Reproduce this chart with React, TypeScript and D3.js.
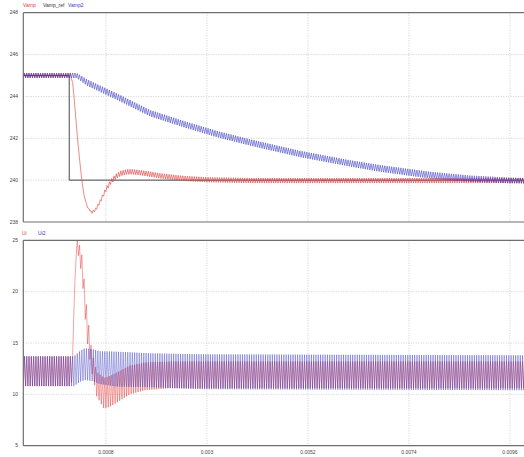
import React from 'react';
import * as d3 from 'd3';

// ---- axis ticks ----
const xTickValues = [0.0008, 0.003, 0.0052, 0.0074, 0.0096];
const xTickLabels = ['0.0008', '0.003', '0.0052', '0.0074', '0.0096'];
const topTickValues = [238, 240, 242, 244, 246, 248];
const bottomTickValues = [5, 10, 15, 20, 25];

// ---- legends ----
const topLegend = ['Vamp', 'Vamp_ref', 'Vamp2'];
const bottomLegend = ['Ui', 'Ui2'];

// ---- signal envelopes: [time (s), ripple low, ripple high] ----
const vamp: [number, number, number][] = [
  [-0.001, 244.9, 245.1],
  [0.00004, 244.9, 245.1],
  [0.00008, 244.6, 244.6],
  [0.00012, 243.6, 243.6],
  [0.00018, 242.0, 242.0],
  [0.00023, 240.9, 240.9],
  [0.00028, 239.9, 239.9],
  [0.00033, 239.2, 239.2],
  [0.0004, 238.68, 238.72],
  [0.00049, 238.4, 238.5],
  [0.00058, 238.53, 238.67],
  [0.00068, 238.92, 239.08],
  [0.0008, 239.45, 239.65],
  [0.0009, 239.79, 240.01],
  [0.001, 240.03, 240.27],
  [0.00112, 240.2, 240.44],
  [0.00125, 240.27, 240.51],
  [0.00135, 240.28, 240.52],
  [0.0015, 240.25, 240.49],
  [0.00175, 240.17, 240.41],
  [0.002, 240.08, 240.32],
  [0.0025, 239.96, 240.2],
  [0.003, 239.9, 240.14],
  [0.004, 239.86, 240.1],
  [0.01, 239.86, 240.1],
];

const vampRefT = [-0.001, 0, 0.000001, 0.01];
const vampRefV = [245, 245, 240, 240];

const vamp2: [number, number, number][] = [
  [-0.001, 244.88, 245.12],
  [0.00016, 244.88, 245.12],
  [0.0004, 244.5, 244.8],
  [0.00103, 243.85, 244.15],
  [0.00176, 243.05, 243.35],
  [0.00249, 242.53, 242.83],
  [0.00322, 242.05, 242.35],
  [0.00394, 241.65, 241.95],
  [0.00503, 241.1, 241.4],
  [0.00612, 240.65, 240.95],
  [0.00677, 240.4, 240.72],
  [0.00786, 240.08, 240.4],
  [0.00873, 239.92, 240.22],
  [0.00961, 239.85, 240.12],
  [0.01, 239.84, 240.1],
];

const ui: [number, number, number][] = [
  [-0.001, 10.8, 13.7],
  [0.00004, 10.8, 13.7],
  [0.00006, 11.5, 11.5],
  [0.000115, 20, 20],
  [0.00016, 24.2, 25.3],
  [0.0002, 23.5, 25],
  [0.00028, 21.5, 23.5],
  [0.00038, 15.5, 18.5],
  [0.00049, 12.2, 14.2],
  [0.0006, 9.8, 12.2],
  [0.00076, 8.6, 11.6],
  [0.00089, 8.8, 11.8],
  [0.00111, 9.4, 12.3],
  [0.00132, 10.0, 12.8],
  [0.00165, 10.4, 13.1],
  [0.0022, 10.6, 13.2],
  [0.01, 10.6, 13.2],
];

const ui2: [number, number, number][] = [
  [-0.001, 10.8, 13.7],
  [0.0001, 10.8, 13.7],
  [0.00023, 11.2, 14.2],
  [0.00034, 11.4, 14.5],
  [0.0005, 11.3, 14.4],
  [0.00067, 11.0, 14.2],
  [0.00104, 10.75, 14.15],
  [0.00176, 10.7, 14.0],
  [0.00285, 10.5, 13.9],
  [0.01, 10.4, 13.8],
];

// converter switching period of the ripple
const SWITCH_PERIOD = 0.00005;

const W = 524;
const H = 457;
const left = 23.3;
const right = 528.3;
const top1 = 12.7, bottom1 = 222;
const top2 = 240.3, bottom2 = 445.7;

const RED = '#e23b3b';
const BLUE = '#3636c4';
const GRID = '#c4c4c4';
const AXIS = '#6e6e6e';

const x = d3.scaleLinear().domain([-0.001, 0.01]).range([left, right]);
const yTop = d3.scaleLinear().domain([238, 248]).range([bottom1, top1]);
const yBot = d3.scaleLinear().domain([5, 25]).range([bottom2, top2]);

// zigzag between the envelope bounds, one stroke per half switching period
function ripplePath(env: [number, number, number][], y: d3.ScaleLinear<number, number>) {
  const ts = env.map((d) => d[0]);
  const lo = d3.scaleLinear().domain(ts).range(env.map((d) => d[1])).clamp(true);
  const hi = d3.scaleLinear().domain(ts).range(env.map((d) => d[2])).clamp(true);
  const half = SWITCH_PERIOD / 2;
  const pts: [number, number][] = [];
  const t0 = ts[0];
  const t1 = ts[ts.length - 1];
  const n = Math.round((t1 - t0) / half);
  for (let k = 0; k <= n; k++) {
    const t = t0 + k * half;
    pts.push([t, k % 2 ? hi(t) : lo(t)]);
  }
  return d3.line<[number, number]>().x((d) => x(d[0])).y((d) => y(d[1]))(pts) || '';
}

const refPath =
  d3.line<number>().x((_, i) => x(vampRefT[i])).y((v) => yTop(v))(vampRefV) || '';

const font = { fontFamily: 'Liberation Sans, Arial, sans-serif', fontSize: 5 };

function Panel({ y, yTicks, top, bottom, showX }: any) {
  return (
    <g>
      {yTicks.map((v: number) =>
        y(v) > top + 1 && y(v) < bottom - 1 ? (
          <line key={'h' + v} x1={left} x2={W} y1={y(v)} y2={y(v)} stroke={GRID} strokeWidth={0.8} strokeDasharray="1,1.5" />
        ) : null
      )}
      {xTickValues.map((v) => (
        <line key={'v' + v} x1={x(v)} x2={x(v)} y1={top} y2={bottom} stroke={GRID} strokeWidth={0.8} strokeDasharray="1,1.5" />
      ))}
      {yTicks.map((v: number) => (
        <text key={'t' + v} x={18} y={y(v) + 1.7} textAnchor="end" fill="#444" style={font}>
          {v}
        </text>
      ))}
      {showX &&
        xTickValues.map((v, i) => (
          <text key={'x' + v} x={x(v)} y={454} textAnchor="middle" fill="#444" style={font}>
            {xTickLabels[i]}
          </text>
        ))}
    </g>
  );
}

export default function App() {
  return (
    <svg width={W} height={H} style={{ position: 'absolute', left: 0, top: 0, background: '#fff' }}>
      <defs>
        <clipPath id="clipTop">
          <rect x={left} y={top1} width={right - left} height={bottom1 - top1} />
        </clipPath>
        <clipPath id="clipBot">
          <rect x={left} y={top2} width={right - left} height={bottom2 - top2} />
        </clipPath>
      </defs>
      <rect x={0} y={0} width={W} height={H} fill="#fff" />

      {/* top panel: amplifier voltages */}
      <Panel y={yTop} yTicks={topTickValues} top={top1} bottom={bottom1} showX={false} />
      <g clipPath="url(#clipTop)">
        <path d={refPath} fill="none" stroke="#333" strokeWidth={0.9} />
        <path d={ripplePath(vamp, yTop)} fill="none" stroke={RED} strokeWidth={0.6} />
        <path d={ripplePath(vamp2, yTop)} fill="none" stroke={BLUE} strokeWidth={0.6} strokeOpacity={0.9} />
      </g>
      <line x1={left} x2={W} y1={top1} y2={top1} stroke={AXIS} strokeWidth={1.2} />
      <line x1={left} x2={W} y1={bottom1} y2={bottom1} stroke={AXIS} strokeWidth={1.2} />
      <line x1={left} x2={left} y1={top1} y2={bottom1} stroke={AXIS} strokeWidth={1.2} />
      <g style={font}>
        <text x={23} y={7} fill={RED}>{topLegend[0]}</text>
        <text x={43} y={7} fill="#333">{topLegend[1]}</text>
        <text x={68} y={7} fill={BLUE}>{topLegend[2]}</text>
      </g>

      {/* bottom panel: currents */}
      <Panel y={yBot} yTicks={bottomTickValues} top={top2} bottom={bottom2} showX={true} />
      <g clipPath="url(#clipBot)">
        <path d={ripplePath(ui, yBot)} fill="none" stroke={RED} strokeWidth={0.55} strokeOpacity={0.85} />
        <path d={ripplePath(ui2, yBot)} fill="none" stroke={BLUE} strokeWidth={0.5} strokeOpacity={0.8} />
      </g>
      <line x1={left} x2={W} y1={top2} y2={top2} stroke={AXIS} strokeWidth={1.2} />
      <line x1={left} x2={W} y1={bottom2} y2={bottom2} stroke={AXIS} strokeWidth={1.2} />
      <line x1={left} x2={left} y1={top2} y2={bottom2} stroke={AXIS} strokeWidth={1.2} />
      <g style={font}>
        <text x={22} y={234.5} fill={RED}>{bottomLegend[0]}</text>
        <text x={38} y={234.5} fill={BLUE}>{bottomLegend[1]}</text>
      </g>
    </svg>
  );
}
